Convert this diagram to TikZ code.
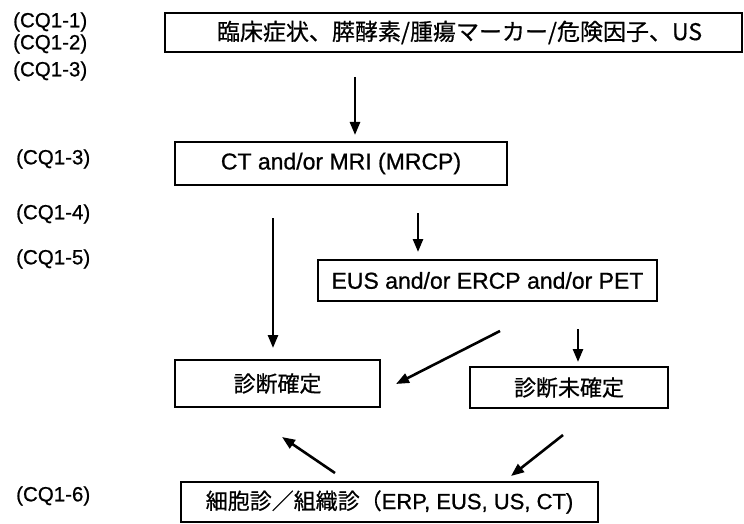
\documentclass[tikz,border=0pt]{standalone}
\usepackage{fontspec}
\setmainfont{Liberation Sans}[FakeBold=0.8]
\newfontfamily\jp{Noto Sans CJK JP}[FakeBold=0.6]
\usetikzlibrary{arrows.meta}
\tikzset{
  box/.style={draw=black, line width=1.5pt, rectangle, inner sep=0pt, font=\fontsize{23}{26}\selectfont},
  thickbox/.style={box, line width=2.8pt},
  arr/.style={line width=2.6pt, -{Triangle[length=13pt,width=10pt]}},
  cq/.style={anchor=west, inner sep=0pt, font=\fontsize{20.5}{22}\selectfont}
}
\begin{document}
\begin{tikzpicture}[x=1pt,y=-1pt]
\useasboundingbox (0,0) rectangle (744,524);
% boxes
\node[box, minimum width=577pt, minimum height=39pt] (top) at (453.5,32.5)
  {\hspace*{12pt}\jp\fontsize{23}{26}\selectfont 臨床症状、膵酵素/腫瘍マーカー/危険因子、US};
\node[box, minimum width=332pt, minimum height=43pt] (ct) at (341,163.5) {CT and/or MRI (MRCP)};
\node[box, minimum width=339pt, minimum height=41pt] (eus) at (487.5,280.5) {EUS and/or ERCP and/or PET};
\node[thickbox, minimum width=205pt, minimum height=47pt] (dx) at (277.5,383.5)
  {\jp\fontsize{22}{26}\selectfont 診断確定};
\node[box, minimum width=198pt, minimum height=41pt] (undx) at (569,387.5)
  {\jp\fontsize{22}{26}\selectfont 診断未確定};
\node[box, minimum width=417pt, minimum height=40pt] (bio) at (389.5,502)
  {{\jp\fontsize{22}{26}\selectfont 細胞診／組織診（}\fontsize{22}{26}\selectfont ERP, EUS, US, CT)};
% labels
\node[cq] (l1) at (13,22) {(CQ1-1)};
\node[cq] (l2) at (13,44) {(CQ1-2)};
\node[cq] (l3) at (13,71) {(CQ1-3)};
\node[cq] (l4) at (16,159) {(CQ1-3)};
\node[cq] (l5) at (16,214) {(CQ1-4)};
\node[cq] (l6) at (16,259) {(CQ1-5)};
\node[cq] (l7) at (16,496) {(CQ1-6)};
% connector end points
\coordinate (a1s) at (355,77);  \coordinate (a1e) at (355,135);
\coordinate (a2s) at (273,218); \coordinate (a2e) at (273,348);
\coordinate (a3s) at (418,213); \coordinate (a3e) at (418,252);
\coordinate (a4s) at (500,331); \coordinate (a4e) at (396,384);
\coordinate (a5s) at (578,329); \coordinate (a5e) at (578,362);
\coordinate (a6s) at (563,435); \coordinate (a6e) at (511,476);
\coordinate (a7s) at (335,473); \coordinate (a7e) at (282,437);
\draw[arr] (a1s) -- (a1e);
\draw[arr] (a2s) -- (a2e);
\draw[arr] (a3s) -- (a3e);
\draw[arr] (a4s) -- (a4e);
\draw[arr] (a5s) -- (a5e);
\draw[arr] (a6s) -- (a6e);
\draw[arr] (a7s) -- (a7e);
\end{tikzpicture}
\end{document}
